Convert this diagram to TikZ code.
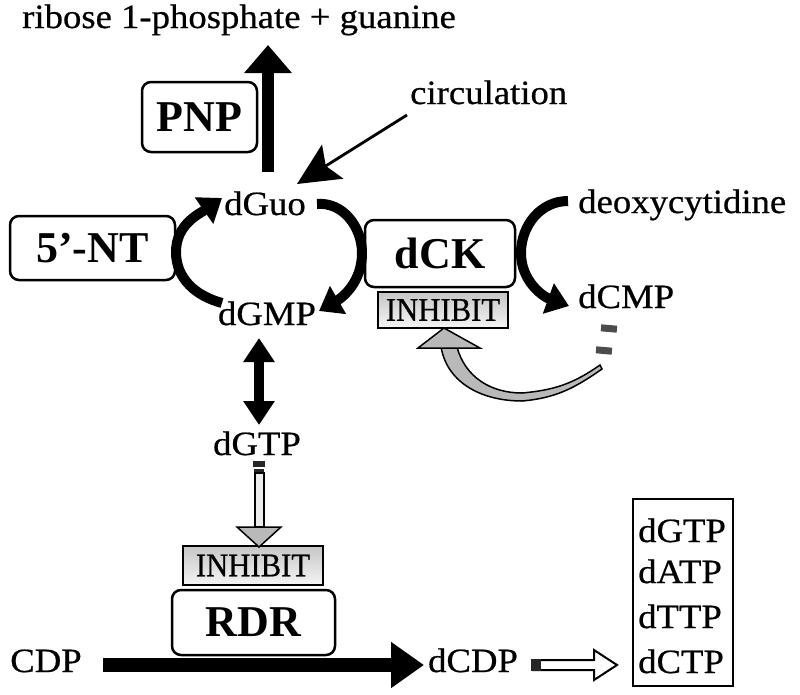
\documentclass[tikz,border=0pt]{standalone}
\usepackage{fontspec}
\setmainfont{Liberation Serif}
\newfontfamily\txtfont[FakeStretch=1.08,FakeBold=0.6]{Liberation Serif}
\newfontfamily\inhfont[FakeStretch=0.93,FakeBold=0.6]{Liberation Serif}
\usetikzlibrary{arrows.meta}
\tikzset{
  txt/.style={font=\txtfont\fontsize{34}{40}\selectfont, inner sep=0pt},
  enz/.style={draw, line width=2.5pt, rounded corners=9pt, font=\bfseries\fontsize{44}{50}\selectfont, inner sep=0pt},
  inh/.style={draw, line width=2.5pt, top color=gray!45, bottom color=gray!8, font=\inhfont\fontsize{33}{38}\selectfont, inner sep=0pt},
  arcline/.style={line width=10pt, -{Triangle[length=22pt,width=31pt]}},
  grayfill/.style={draw=black, line width=1.5pt, fill=gray!55},
}
\begin{document}
\begin{tikzpicture}[x=1pt,y=-1pt]
\useasboundingbox (0,0) rectangle (800,694);
\fill[white] (0,0) rectangle (800,694);

% texts
\node[txt, anchor=base west] (ribose) at (22,28) {ribose 1-phosphate + guanine};
\node[txt, anchor=base west] (circ) at (410,104) {circulation};
\node[txt, anchor=base] (dGuo) at (265,215) {dGuo};
\node[txt, anchor=base] (dGMP) at (267,325) {dGMP};
\node[txt, anchor=base west] (dcyt) at (578,213) {deoxycytidine};
\node[txt, anchor=base west] (dCMP) at (578,308) {dCMP};
\node[txt, anchor=base] (dGTP) at (257,455) {dGTP};
\node[txt, anchor=base] (CDP) at (46,672) {CDP};
\node[txt, anchor=base] (dCDP) at (473,672) {dCDP};

% enzyme boxes
\node[enz, minimum width=115pt, minimum height=70pt] (PNP) at (199.5,117) {PNP};
\node[enz, minimum width=165pt, minimum height=64pt] (NT) at (92.5,248) {5’-NT};
\node[enz, minimum width=150pt, minimum height=67pt] (dCK) at (440,253.5) {dCK};
\node[enz, minimum width=163pt, minimum height=65pt] (RDR) at (253.5,622.5) {RDR};
\node[inh, minimum width=130pt, minimum height=36pt] (inh1) at (443,310) {INHIBIT};
\node[inh, minimum width=140pt, minimum height=39pt] (inh2) at (253,565.5) {INHIBIT};

% list box
\node[draw, line width=2.5pt, minimum width=100pt, minimum height=187pt, inner sep=0pt] (list) at (683,592.5) {};
\node[txt, anchor=base west] (l1) at (638,542) {dGTP};
\node[txt, anchor=base west] (l2) at (638,583) {dATP};
\node[txt, anchor=base west] (l3) at (638,628) {dTTP};
\node[txt, anchor=base west] (l4) at (638,673) {dCTP};

% PNP arrow
\coordinate (pnpS) at (268,172);
\coordinate (pnpE) at (268,45);
\draw[line width=12pt, -{Triangle[length=28pt,width=46pt]}] (pnpS) -- (pnpE);

% circulation arrow
\coordinate (circS) at (407,115);
\coordinate (circE) at (297,184);
\draw[line width=2.8pt, -{Stealth[length=42pt,width=40pt,inset=8pt]}] (circS) -- (circE);

% left arc (5'-NT)
\coordinate (L1) at (222,303);
\coordinate (L2) at (176,252);
\coordinate (L3) at (222,198);
\draw[arcline] (L1) to[out=165,in=-90] (L2) to[out=90,in=215] (L3);

% right arc (dCK) dGuo -> dGMP
\coordinate (R1) at (317,204);
\coordinate (R2) at (362,253);
\coordinate (R3) at (319,311);
\draw[arcline] (R1) to[out=5,in=90] (R2) to[out=-90,in=30] (R3);

% deoxycytidine -> dCMP
\coordinate (C1) at (568,201);
\coordinate (C2) at (521,253);
\coordinate (C3) at (569,306);
\draw[arcline] (C1) to[out=180,in=90] (C2) to[out=-90,in=160] (C3);

% dGMP <-> dGTP
\coordinate (gA) at (259,338);
\coordinate (gB) at (259,425);
\draw[line width=10pt, {Triangle[length=24pt,width=30pt]}-{Triangle[length=24pt,width=30pt]}] (gA) -- (gB);

% gray arrow dGTP -> INHIBIT
\fill[black!85] (253,461) rectangle (265,467);
\fill[black!85] (254,469) rectangle (264,473);
\draw[line width=1.5pt, fill=gray!15] (255,473) rectangle (264,527);
\draw[grayfill] (237,527) -- (281,527) -- (259,547) -- cycle;

% gray curved arrow dCMP -> INHIBIT (dCK)
\fill[black!70, rotate around={-5:(609,328)}] (601,325) rectangle (617,332);
\fill[black!70, rotate around={-5:(604,350)}] (596,347) rectangle (612,354);
\draw[grayfill] (441,347) to[out=-80,in=180] (522,401) to[out=5,in=215] (602,369)
   -- (600,365) to[out=215,in=5] (522,393) to[out=180,in=-75] (457,347) -- cycle;
\draw[grayfill] (418,348) -- (480,348) -- (444,328) -- cycle;

% CDP -> dCDP
\coordinate (cdpS) at (103,665);
\coordinate (cdpE) at (424,665);
\draw[line width=14pt, -{Triangle[length=33pt,width=44pt]}] (cdpS) -- (cdpE);

% dCDP -> list (open arrow)
\draw[line width=2pt, fill=white] (533,660) -- (594,660) -- (594,650) -- (617,665) -- (594,680) -- (594,670) -- (533,670) -- cycle;
\fill[black!85] (531,659) rectangle (541,671);
\end{tikzpicture}
\end{document}
